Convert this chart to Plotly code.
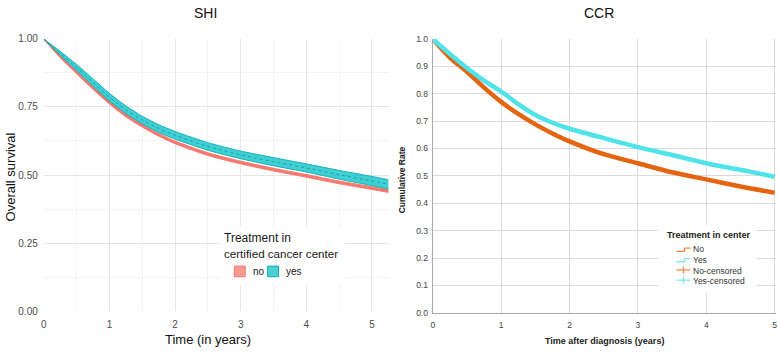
import plotly.graph_objects as go

W, H = 778, 353

# ---------------- data ----------------
shi_time = [0, 0.25, 0.5, 0.75, 1, 1.25, 1.5, 1.75, 2, 2.5, 3, 3.5, 4, 4.5, 5, 5.25]
shi_no = [1.0, 0.935, 0.877, 0.820, 0.766, 0.719, 0.681, 0.648, 0.620, 0.577, 0.546, 0.520, 0.497, 0.473, 0.452, 0.441]
shi_no_lo = [1.0, 0.931, 0.872, 0.815, 0.761, 0.714, 0.676, 0.643, 0.615, 0.572, 0.541, 0.515, 0.492, 0.468, 0.447, 0.436]
shi_no_hi = [1.0, 0.939, 0.882, 0.825, 0.771, 0.724, 0.686, 0.653, 0.625, 0.582, 0.551, 0.525, 0.502, 0.478, 0.457, 0.446]
shi_yes = [1.0, 0.947, 0.895, 0.840, 0.786, 0.740, 0.702, 0.671, 0.646, 0.605, 0.574, 0.549, 0.526, 0.501, 0.478, 0.466]
shi_yes_lo = [1.0, 0.940, 0.884, 0.827, 0.772, 0.726, 0.688, 0.657, 0.632, 0.591, 0.560, 0.534, 0.511, 0.485, 0.461, 0.449]
shi_yes_hi = [1.0, 0.954, 0.906, 0.853, 0.800, 0.754, 0.716, 0.685, 0.660, 0.619, 0.588, 0.564, 0.541, 0.517, 0.495, 0.483]

ccr_time = [0, 0.25, 0.5, 0.75, 1, 1.25, 1.5, 1.75, 2, 2.5, 3, 3.5, 4, 4.5, 5]
ccr_no = [1.0, 0.932, 0.880, 0.822, 0.770, 0.726, 0.688, 0.655, 0.626, 0.579, 0.546, 0.513, 0.487, 0.461, 0.438]
ccr_yes = [1.0, 0.945, 0.894, 0.848, 0.808, 0.762, 0.722, 0.694, 0.672, 0.638, 0.605, 0.576, 0.546, 0.522, 0.497]

shi_ticks_x = [0, 1, 2, 3, 4, 5]
shi_ticks_y = [0, 0.25, 0.5, 0.75, 1.0]
shi_ticklabels_y = ["0.00", "0.25", "0.50", "0.75", "1.00"]
ccr_ticks_x = [0, 1, 2, 3, 4, 5]
ccr_ticks_y = [0, 0.1, 0.2, 0.3, 0.4, 0.5, 0.6, 0.7, 0.8, 0.9, 1.0]

# ---------------- helpers ----------------
def px(x):
    return x / W

def py(y):
    return 1 - y / H

SANS = "Liberation Sans, Arial, sans-serif"
NARROW = "Liberation Sans Narrow, Arial Narrow, Liberation Sans, sans-serif"

RED = "#F8766D"
TEAL = "#00BFC4"
ORANGE = "#E5640F"
CYAN = "#50E3EA"
SM = 0.7

fig = go.Figure()

# SHI: "no" band + line
fig.add_trace(go.Scatter(x=shi_time, y=shi_no_lo, mode="lines", line=dict(color=RED, width=1, shape="spline", smoothing=SM),
                         showlegend=False, hoverinfo="skip", xaxis="x", yaxis="y"))
fig.add_trace(go.Scatter(x=shi_time, y=shi_no_hi, mode="lines", line=dict(color=RED, width=1, shape="spline", smoothing=SM),
                         fill="tonexty", fillcolor="rgba(248,118,109,0.85)",
                         showlegend=False, hoverinfo="skip", xaxis="x", yaxis="y"))
fig.add_trace(go.Scatter(x=shi_time, y=shi_no, mode="lines", line=dict(color=RED, width=1.5, shape="spline", smoothing=SM),
                         name="no", showlegend=False, xaxis="x", yaxis="y"))
# SHI: "yes" band + line
fig.add_trace(go.Scatter(x=shi_time, y=shi_yes_lo, mode="lines", line=dict(color="#14B3B7", width=1, shape="spline", smoothing=SM),
                         showlegend=False, hoverinfo="skip", xaxis="x", yaxis="y"))
fig.add_trace(go.Scatter(x=shi_time, y=shi_yes_hi, mode="lines", line=dict(color="#14B3B7", width=1, shape="spline", smoothing=SM),
                         fill="tonexty", fillcolor="rgba(0,191,196,0.75)",
                         showlegend=False, hoverinfo="skip", xaxis="x", yaxis="y"))
fig.add_trace(go.Scatter(x=shi_time, y=shi_yes, mode="lines",
                         line=dict(color="#14A3A7", width=1, dash="dot", shape="spline", smoothing=SM),
                         name="yes", showlegend=False, xaxis="x", yaxis="y"))

# CCR lines
fig.add_trace(go.Scatter(x=ccr_time, y=ccr_no, mode="lines", line=dict(color=ORANGE, width=4.5, shape="spline", smoothing=SM),
                         name="No", showlegend=False, xaxis="x2", yaxis="y2"))
fig.add_trace(go.Scatter(x=ccr_time, y=ccr_yes, mode="lines", line=dict(color=CYAN, width=4.5, shape="spline", smoothing=SM),
                         name="Yes", showlegend=False, xaxis="x2", yaxis="y2"))

GRID_MAJ = "#E6E6E6"
GRID_MIN = "#F2F2F2"

fig.update_layout(
    width=W, height=H,
    margin=dict(l=0, r=0, t=0, b=0),
    paper_bgcolor="white", plot_bgcolor="white",
    showlegend=False,
    xaxis=dict(domain=[px(41), px(388)], range=[0, 5.26], tickvals=shi_ticks_x,
               showgrid=True, gridcolor=GRID_MAJ, gridwidth=1, zeroline=False, showline=False,
               minor=dict(dtick=0.5, tick0=0, showgrid=True, gridcolor=GRID_MIN, gridwidth=1),
               ticks="outside", ticklen=4, tickcolor="rgba(0,0,0,0)",
               tickfont=dict(family=SANS, size=10, color="#4D4D4D"), anchor="y"),
    yaxis=dict(domain=[py(316), py(35)], range=[0, 1], tickvals=shi_ticks_y, ticktext=shi_ticklabels_y,
               showgrid=True, gridcolor=GRID_MAJ, gridwidth=1, zeroline=False, showline=False,
               minor=dict(dtick=0.125, tick0=0, showgrid=True, gridcolor=GRID_MIN, gridwidth=1),
               ticks="outside", ticklen=3, tickcolor="rgba(0,0,0,0)",
               tickfont=dict(family=SANS, size=10, color="#4D4D4D"), anchor="x"),
    xaxis2=dict(domain=[px(432), px(777)], range=[0, 5.02], tickvals=ccr_ticks_x,
                showgrid=True, gridcolor="#DADADA", gridwidth=1, zeroline=False,
                showline=True, linecolor="#A8A8A8", linewidth=1.2,
                ticks="outside", ticklen=4, tickcolor="rgba(0,0,0,0)", ticklabeloverflow="allow",
                tickfont=dict(family=SANS, size=8.5, color="#444444"), anchor="y2"),
    yaxis2=dict(domain=[py(317.7), py(35)], range=[0, 1], tickvals=ccr_ticks_y, tickformat=".1f",
                showgrid=True, gridcolor="#DADADA", gridwidth=1, zeroline=False,
                showline=True, linecolor="#A8A8A8", linewidth=1.2,
                ticks="outside", ticklen=2, tickcolor="rgba(0,0,0,0)",
                tickfont=dict(family=SANS, size=8.5, color="#444444"), anchor="x2"),
)

ann = []
def text(x, y, s, size, color="#1A1A1A", family=SANS, xanchor="center", angle=0, bold=False):
    if bold:
        s = "<b>" + s + "</b>"
    ann.append(dict(x=px(x), y=py(y), xref="paper", yref="paper", text=s, showarrow=False,
                    xanchor=xanchor, yanchor="middle", textangle=angle,
                    font=dict(family=family, size=size, color=color)))

# titles
text(203.5, 8, "SHI", 14, color="#111111")
text(599, 8, "CCR", 14, color="#111111")
# axis titles
text(8, 177, "Overall survival", 13, color="#111111", angle=-90)
text(206, 345, "Time (in years)", 13, color="#111111")
text(401, 180, "Cumulative Rate", 8.5, color="#222222", family=NARROW, angle=-90, bold=True)
text(604.5, 347, "Time after diagnosis (years)", 9, color="#222222", family=NARROW, bold=True)

shapes = []
def rect(x0, y0, x1, y1, fill, line="rgba(0,0,0,0)", lw=0):
    shapes.append(dict(type="rect", xref="paper", yref="paper", x0=px(x0), x1=px(x1), y0=py(y1), y1=py(y0),
                       fillcolor=fill, line=dict(color=line, width=lw), layer="above"))

def path(points, color, lw=1.3):
    d = "M " + " L ".join(f"{px(a):.5f},{py(b):.5f}" for a, b in points)
    shapes.append(dict(type="path", xref="paper", yref="paper", path=d,
                       line=dict(color=color, width=lw), layer="above"))

# SHI legend
rect(218, 229, 344, 289, "white")
text(220, 241, "Treatment in", 12, xanchor="left")
text(220, 256.5, "certified cancer center", 11.6, xanchor="left")
rect(232.5, 269.5, 243.5, 280.5, "rgba(248,118,109,0.75)", line=RED, lw=1)
rect(266, 269.5, 277, 280.5, "rgba(0,191,196,0.72)", line="#10AEB2", lw=1)
text(249, 275.5, "no", 10, xanchor="left", color="#1A1A1A")
text(282, 275.5, "yes", 10, xanchor="left", color="#1A1A1A")

# CCR legend
rect(658, 227, 757, 297, "white")
text(665, 237, "Treatment in center", 9, xanchor="left", family=NARROW, bold=True, color="#222222")
path([(677, 254.3), (685, 254.3), (685, 251), (691, 251)], "#F08A4B")
path([(677, 265), (685, 265), (685, 261.7), (691, 261.7)], "#7FE9EE")
path([(677, 273.5), (691, 273.5)], "#F08A4B")
path([(684, 270), (684, 277.3)], "#F08A4B")
path([(677, 284), (691, 284)], "#7FE9EE")
path([(684, 280.3), (684, 288)], "#7FE9EE")
text(692, 252, "No", 8.5, xanchor="left", family=NARROW, color="#333333")
text(692, 263.5, "Yes", 8.5, xanchor="left", family=NARROW, color="#333333")
text(692, 274.3, "No-censored", 8.5, xanchor="left", family=NARROW, color="#333333")
text(692, 285, "Yes-censored", 8.5, xanchor="left", family=NARROW, color="#333333")

fig.update_layout(annotations=ann, shapes=shapes)

fig.write_html("out.html")
